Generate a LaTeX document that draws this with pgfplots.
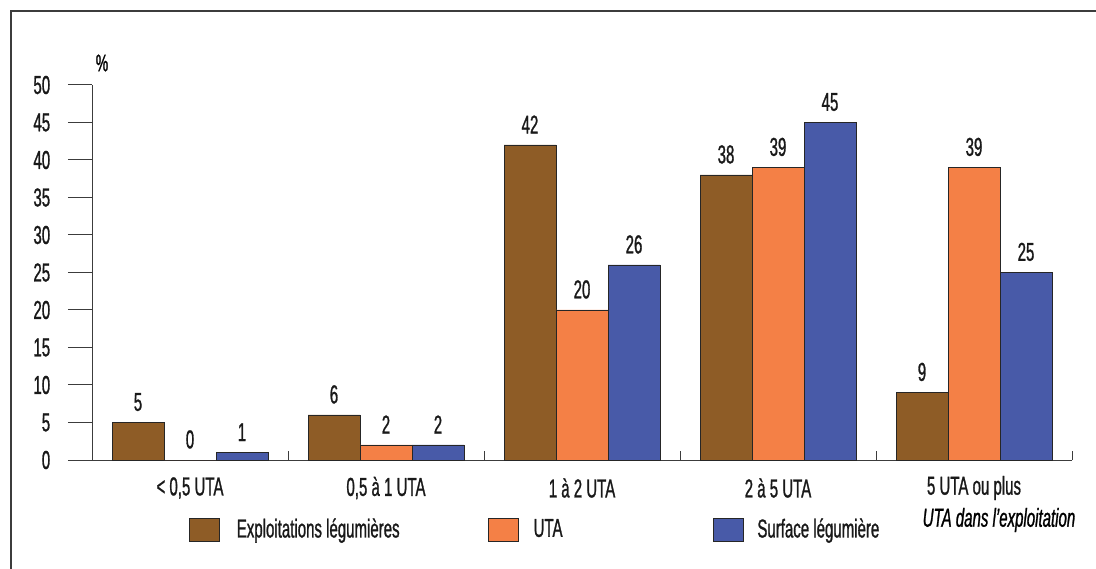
\documentclass[border=0pt]{standalone}
\usepackage{fontspec}
\setmainfont{Liberation Sans}[FakeStretch=0.58, FakeBold=1.0]
\usepackage{pgfplots}
\pgfplotsset{compat=1.18}
\definecolor{cBrown}{RGB}{142,92,38}
\definecolor{cOrange}{RGB}{244,128,70}
\definecolor{cBlue}{RGB}{72,90,168}
\definecolor{cAxis}{RGB}{60,60,60}
\newcommand{\f}{\fontsize{26}{30}\selectfont}
\begin{document}
\f
\begin{tikzpicture}[every node/.append style={font=\f}]
\useasboundingbox (0,0) rectangle (1096bp,569bp);
\draw[cAxis, line width=1.3bp] (11bp,0) -- (11bp,558bp) -- (1096bp,558bp);
\begin{axis}[
  at={(92bp,109bp)}, anchor=south west,
  scale only axis, width=980bp, height=375bp,
  xmin=-0.5, xmax=4.5, ymin=0, ymax=50,
  axis x line=bottom, axis y line=left,
  axis line style={-, cAxis, line width=1bp},
  ytick={0,5,...,50},
  tick align=outside,
  major tick length=24bp,
  tick style={cAxis, line width=1bp},
  /pgf/number format/assume math mode=true,
  tick label style={font=\f, text=black!90},
  yticklabel style={anchor=east, xshift=-9bp},
  xtick={0,1,2,3,4},
  xticklabels={{< 0,5 UTA}, {0,5 à 1 UTA}, {1 à 2 UTA}, {2 à 5 UTA}, {5 UTA ou plus}},
  major x tick style={draw=none},
  xticklabel style={anchor=center, yshift=-4bp},
  extra x ticks={0.5,1.5,2.5,3.5,4.5},
  extra x tick labels={},
  extra x tick style={tick align=inside, major tick length=9bp, major x tick style={draw=cAxis, line width=1bp}},
  ylabel={\%},
  ylabel style={rotate=-90, at={(rel axis cs:0,1)}, anchor=center, xshift=10bp, yshift=22bp, font=\fontsize{24}{28}\selectfont},
  xlabel={\itshape UTA dans l’exploitation},
  xlabel style={at={(rel axis cs:0.9255,-0.16)}, anchor=center, font=\f},
  ybar, bar width=0.26531,
  every axis plot/.append style={draw=black!85, line width=0.8bp},
  nodes near coords,
  nodes near coords style={anchor=south, inner sep=0pt, yshift=11bp, text=black!90, font=\f},
  legend columns=3,
  legend image code/.code={\draw[#1] (0bp,-11.5bp) rectangle (30bp,11.5bp);},
  legend style={draw=none, fill=none, inner sep=0pt, outer sep=0pt, column sep=0pt,
    at={(rel axis cs:0.09898,-0.15467)}, anchor=north west,
    nodes={inner sep=0pt, anchor=west, font=\f, text=black!90}},
  clip=false,
]
\addplot[fill=cBrown, bar shift=-0.26531] coordinates {(0,5) (1,6) (2,42) (3,38) (4,9)};
\addplot[fill=cOrange, bar shift=0] coordinates {(0,0) (1,2) (2,20) (3,39) (4,39)};
\addplot[fill=cBlue, bar shift=0.26531] coordinates {(0,1) (1,2) (2,26) (3,45) (4,25)};
\legend{\hspace{17bp}\makebox[251bp][l]{Exploitations légumières},\hspace{15bp}\makebox[179bp][l]{UTA},\hspace{14bp}Surface légumière}
\draw[cAxis, line width=1bp] ([xshift=-24bp]rel axis cs:0,0) -- (rel axis cs:0,0);
\end{axis}
\end{tikzpicture}
\end{document}
